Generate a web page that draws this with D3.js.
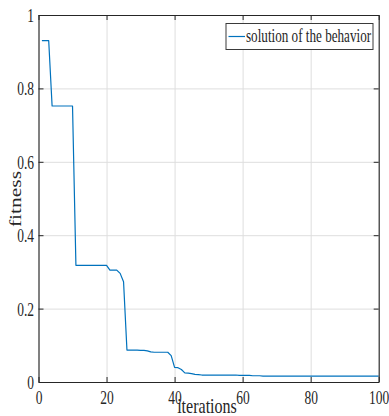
<!DOCTYPE html>
<html>
<head>
<meta charset="utf-8">
<script src="https://cdn.jsdelivr.net/npm/d3@7"></script>
<style>
  html, body { margin: 0; padding: 0; background: #fff; }
  svg { display: block; }
  text { font-family: "Liberation Serif", "Times New Roman", serif; fill: #262626; }
</style>
</head>
<body>
<svg id="chart" width="389" height="416"></svg>
<script>
// Best fitness found at each iteration (iterations 1..100)
const fitness = [
  0.930, 0.930, 0.930,
  0.752, 0.752, 0.752, 0.752, 0.752, 0.752, 0.752,
  0.318, 0.318, 0.318, 0.318, 0.318, 0.318, 0.318, 0.318, 0.318, 0.318,
  0.305, 0.305, 0.305, 0.296, 0.273,
  0.087, 0.087, 0.087, 0.087, 0.086, 0.086, 0.085, 0.082,
  0.081, 0.081, 0.081, 0.081, 0.081,
  0.072, 0.040, 0.039, 0.034, 0.025, 0.024, 0.023, 0.021, 0.020,
  0.019, 0.019, 0.019, 0.019, 0.019, 0.019, 0.019, 0.019, 0.019, 0.019, 0.019,
  0.018, 0.018, 0.018, 0.018,
  0.017, 0.017, 0.017,
  0.016, 0.016, 0.016, 0.016, 0.016, 0.016, 0.016, 0.016, 0.016, 0.016,
  0.016, 0.016, 0.016, 0.016, 0.016, 0.016, 0.016, 0.016, 0.016, 0.016,
  0.016, 0.016, 0.016, 0.016, 0.016, 0.016, 0.016, 0.016, 0.016, 0.016,
  0.016, 0.016, 0.016, 0.016, 0.016
];
const xTicks = [0, 20, 40, 60, 80, 100];
const yTicks = [0, 0.2, 0.4, 0.6, 0.8, 1];
const xTickLabels = ["0", "20", "40", "60", "80", "100"];
const yTickLabels = ["0", "0.2", "0.4", "0.6", "0.8", "1"];
const seriesName = "solution of the behavior";
const xTitle = "iterations";
const yTitle = "fitness";

const plotLeft = 38.5, plotRight = 378.7, plotTop = 15, plotBottom = 382;
const squeeze = 0.73;   // narrow glyph width used for all text
const ink = "#262626";

const svg = d3.select("#chart");
const x = d3.scaleLinear().domain([0, 100]).range([plotLeft, plotRight]);
const y = d3.scaleLinear().domain([0, 1]).range([plotBottom, plotTop]);

// grid lines
const grid = svg.append("g");
grid.append("g")
  .attr("transform", `translate(0,${plotBottom})`)
  .call(d3.axisBottom(x).tickValues(xTicks).tickSize(-(plotBottom - plotTop)).tickFormat(""))
  .call(g => g.select(".domain").remove())
  .call(g => g.selectAll("line").attr("stroke", "#dedede").attr("stroke-width", 1));
grid.append("g")
  .attr("transform", `translate(${plotLeft},0)`)
  .call(d3.axisLeft(y).tickValues(yTicks).tickSize(-(plotRight - plotLeft)).tickFormat(""))
  .call(g => g.select(".domain").remove())
  .call(g => g.selectAll("line").attr("stroke", "#dedede").attr("stroke-width", 1));

// data line
const line = d3.line()
  .x((d, i) => x(i + 1))
  .y(d => y(d));
svg.append("path")
  .datum(fitness)
  .attr("fill", "none")
  .attr("stroke", "#0072BD")
  .attr("stroke-width", 1.2)
  .attr("stroke-linejoin", "round")
  .attr("d", line);

// axes with inward ticks on all four sides
function styleAxis(g) {
  g.select(".domain").attr("stroke", ink).attr("stroke-width", 1.1);
  g.selectAll(".tick line").attr("stroke", ink).attr("stroke-width", 1);
}
const xAxis = svg.append("g")
  .attr("transform", `translate(0,${plotBottom})`)
  .call(d3.axisBottom(x).tickValues(xTicks).tickSizeInner(-5).tickSizeOuter(0)
    .tickFormat((d, i) => xTickLabels[i]))
  .call(styleAxis);
xAxis.selectAll(".tick text")
  .attr("font-size", 18.5)
  .attr("fill", ink)
  .attr("y", 0).attr("dy", 0)
  .attr("transform", `translate(0,22) scale(${squeeze},1)`);

const yAxis = svg.append("g")
  .attr("transform", `translate(${plotLeft},0)`)
  .call(d3.axisLeft(y).tickValues(yTicks).tickSizeInner(-5).tickSizeOuter(0)
    .tickFormat((d, i) => yTickLabels[i]))
  .call(styleAxis);
yAxis.selectAll(".tick text")
  .attr("font-size", 18.5)
  .attr("fill", ink)
  .attr("x", 0).attr("dy", 0)
  .attr("transform", `translate(-4.5,6.5) scale(${squeeze},1)`);

svg.append("g")
  .attr("transform", `translate(0,${plotTop})`)
  .call(d3.axisTop(x).tickValues(xTicks).tickSizeInner(-5).tickSizeOuter(0).tickFormat(""))
  .call(styleAxis);
svg.append("g")
  .attr("transform", `translate(${plotRight},0)`)
  .call(d3.axisRight(y).tickValues(yTicks).tickSizeInner(-5).tickSizeOuter(0).tickFormat(""))
  .call(styleAxis);

// axis titles
svg.append("text")
  .attr("transform", `translate(207,413) scale(${squeeze},1)`)
  .attr("text-anchor", "middle")
  .attr("font-size", 22)
  .text(xTitle);
svg.append("text")
  .attr("transform", `translate(20.5,199) rotate(-90) scale(1,${squeeze})`)
  .attr("text-anchor", "middle")
  .attr("font-size", 21.5)
  .text(yTitle);

// legend
const legend = svg.append("g");
legend.append("rect")
  .attr("x", 226).attr("y", 23.5)
  .attr("width", 147).attr("height", 26)
  .attr("fill", "#fff")
  .attr("stroke", "#3a3a3a")
  .attr("stroke-width", 1);
legend.append("line")
  .attr("x1", 228.5).attr("x2", 245)
  .attr("y1", 36.5).attr("y2", 36.5)
  .attr("stroke", "#0072BD")
  .attr("stroke-width", 1.2);
legend.append("text")
  .attr("transform", `translate(246,42) scale(${squeeze},1)`)
  .attr("font-size", 18)
  .text(seriesName);
</script>
</body>
</html>
